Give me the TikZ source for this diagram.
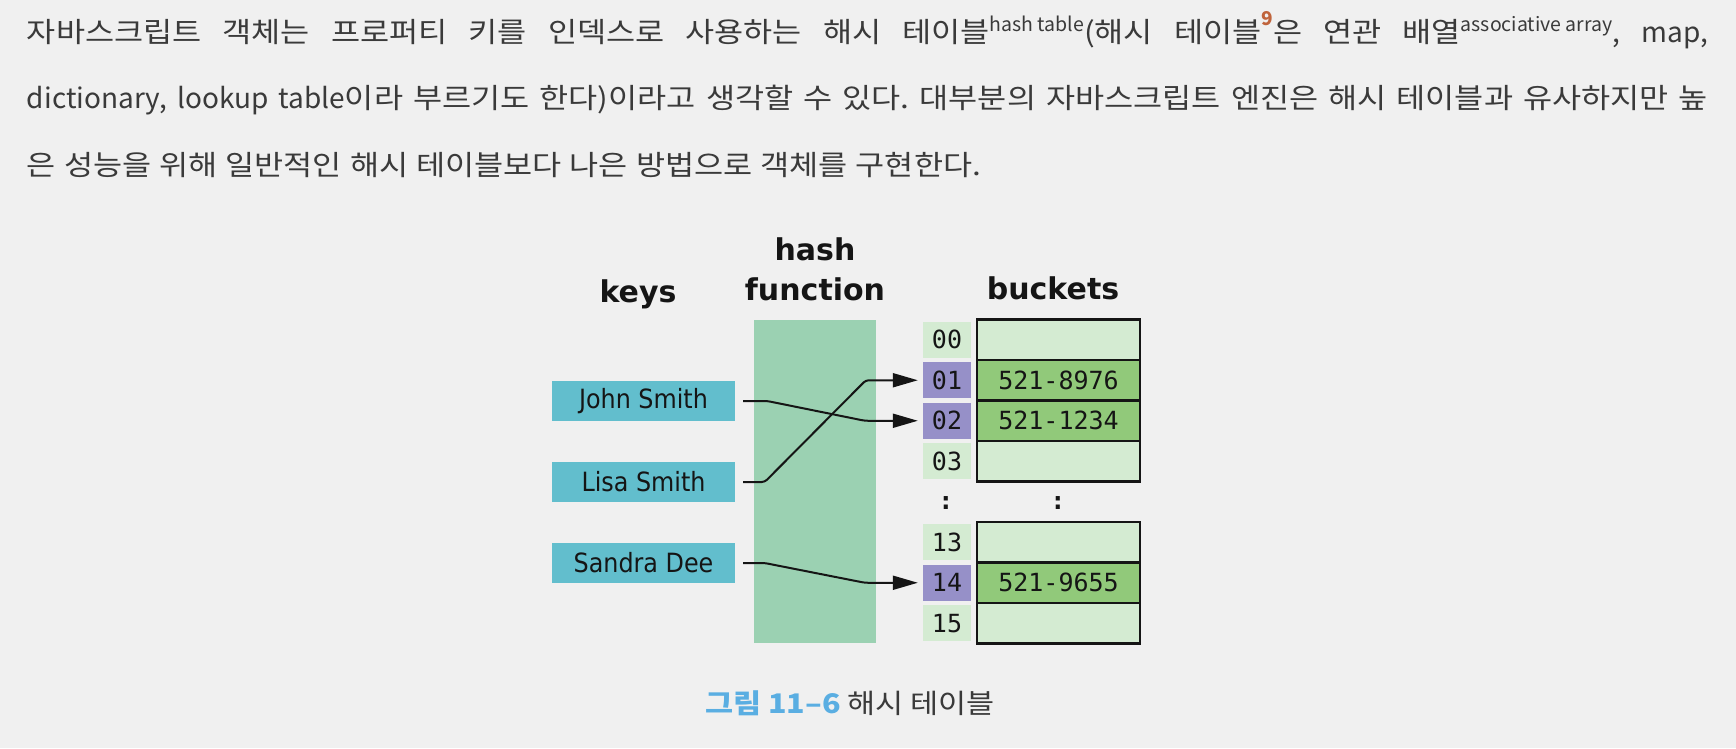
\documentclass[tikz,border=0pt]{standalone}
\usepackage{fontspec}
\setmainfont{DejaVu Sans}
\newfontfamily\krtext{Noto Sans CJK KR}[FakeStretch=1.13]
\newfontfamily\krlat{Noto Sans CJK KR}
\newfontfamily\krsup{Noto Sans CJK KR}
\newfontfamily\dvcond{DejaVu Sans}[FakeStretch=0.9]
\newfontfamily\dvmono{DejaVu Sans Mono}
\usetikzlibrary{arrows.meta}
\definecolor{bgcol}{HTML}{F0F0F0}
\definecolor{bodycol}{HTML}{3A3A3A}
\definecolor{hashcol}{HTML}{9BD1B2}
\definecolor{keycol}{HTML}{62BECD}
\definecolor{lightcol}{HTML}{D4EBD2}
\definecolor{purplecol}{HTML}{9690C8}
\definecolor{fullcol}{HTML}{91C97A}
\definecolor{ninecol}{HTML}{C0643C}
\definecolor{capblue}{HTML}{5AAEE2}
\definecolor{inkcol}{HTML}{151515}
\newcommand\supx[1]{\raisebox{11pt}{\krsup\fontsize{19.5}{19.5}\selectfont\spaceskip=0pt\relax #1}}
\newcommand\supnine{\raisebox{17pt}{\krsup\fontsize{19}{19}\selectfont\bfseries\color{ninecol}9}}
\newcommand\lat[1]{{\krlat #1}}
\newcommand\bodyfont{\krtext\fontsize{28}{28}\selectfont\spaceskip=8pt plus 40pt minus 3pt\relax}
\frenchspacing
\begin{document}
\begin{tikzpicture}[x=1pt,y=-1pt,
  body/.style={anchor=base west,inner sep=0pt,outer sep=0pt,text=bodycol,font=\bodyfont},
  keybox/.style={fill=keycol,inner sep=0pt,minimum width=183pt,minimum height=40pt,text=inkcol,font=\dvcond\fontsize{26.5}{26.5}\selectfont},
  hashbox/.style={fill=hashcol,inner sep=0pt,minimum width=122pt,minimum height=323.5pt},
  idxcell/.style={fill=lightcol,inner sep=0pt,minimum width=48pt,minimum height=36pt,text=inkcol,font=\dvmono\fontsize{25}{25}\selectfont},
  idxsel/.style={idxcell,fill=purplecol},
  bkt/.style={draw=inkcol,line width=2.5pt,fill=lightcol,inner sep=0pt,minimum width=163pt,minimum height=40.5pt,text=inkcol,font=\dvmono\fontsize{25}{25}\selectfont},
  bktfull/.style={bkt,fill=fullcol},
  title/.style={anchor=base,inner sep=0pt,text=inkcol,font=\bfseries\fontsize{30}{30}\selectfont},
  dotsym/.style={inner sep=0pt,text=inkcol,font=\dvmono\bfseries\fontsize{25}{25}\selectfont},
  conn/.style={draw=inkcol,line width=2pt,rounded corners=3pt,-{Triangle[length=25pt,width=14pt]}}
]
\fill[bgcol] (0,0) rectangle (1736,748);
\useasboundingbox (0,0) rectangle (1736,748);

% body text
\node[body] (l1) at (27,42) {\hbox to 1681pt{자바스크립트 객체는 프로퍼티 키를 인덱스로 사용하는 해시 테이블\supx{hash table}(해시 테이블\supnine 은 연관 배열\supx{associative array}\lat{, map,}}};
\node[body] (l2) at (27,108) {\hbox to 1681pt{\lat{dictionary, lookup table}이라 부르기도 한다)이라고 생각할 수 있다. 대부분의 자바스크립트 엔진은 해시 테이블과 유사하지만 높}};
\node[body] (l3) at (27,175) {은 성능을 위해 일반적인 해시 테이블보다 나은 방법으로 객체를 구현한다.};

% titles
\node[title] (tkeys) at (638,302) {keys};
\node[title] (thash) at (815,260) {hash};
\node[title] (tfunc) at (815,300) {function};
\node[title] (tbuck) at (1053,299) {buckets};

% hash function column
\node[hashbox] (hf) at (815,481.5) {};

% keys
\node[keybox] (john) at (643.5,401) {John Smith};
\node[keybox] (lisa) at (643.5,482) {Lisa Smith};
\node[keybox] (sandra) at (643.5,563) {Sandra Dee};

% index cells
\node[idxcell] (i00) at (947,339.75) {00};
\node[idxsel]  (i01) at (947,380.25) {01};
\node[idxsel]  (i02) at (947,420.75) {02};
\node[idxcell] (i03) at (947,461.25) {03};
\node[idxcell] (i13) at (947,542.25) {13};
\node[idxsel]  (i14) at (947,582.75) {14};
\node[idxcell] (i15) at (947,623.25) {15};

% buckets
\node[bkt]     (b00) at (1058.5,339.75) {};
\node[bktfull] (b01) at (1058.5,380.25) {521-8976};
\node[bktfull] (b02) at (1058.5,420.75) {521-1234};
\node[bkt]     (b03) at (1058.5,461.25) {};
\node[bkt]     (b13) at (1058.5,542.25) {};
\node[bktfull] (b14) at (1058.5,582.75) {521-9655};
\node[bkt]     (b15) at (1058.5,623.25) {};

% ellipsis dots
\node[dotsym] (d1) at (946,503) {:};
\node[dotsym] (d2) at (1058,503) {:};

% connectors
\draw[conn] ([xshift=8pt]john.east) -- ([xshift=32pt]john.east) -- ([xshift=-58pt]i02.west) -- ([xshift=-5pt]i02.west);
\draw[conn] ([xshift=8pt]lisa.east) -- ([xshift=29.5pt]lisa.east) -- ([xshift=-57pt]i01.west) -- ([xshift=-5pt]i01.west);
\draw[conn] ([xshift=8pt]sandra.east) -- ([xshift=29.5pt]sandra.east) -- ([xshift=-58pt]i14.west) -- ([xshift=-5pt]i14.west);

% caption
\node[anchor=base,inner sep=0pt,text=bodycol,font=\krtext\fontsize{27}{27}\selectfont] (cap) at (850,713) {{\bfseries\color{capblue}그림 11–6} 해시 테이블};
\end{tikzpicture}
\end{document}
